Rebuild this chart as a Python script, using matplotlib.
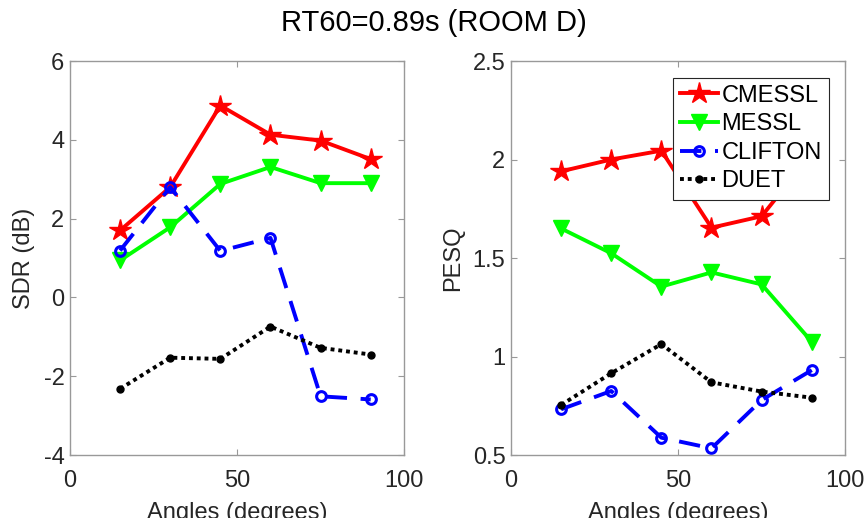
import matplotlib
matplotlib.use("Agg")
import matplotlib.pyplot as plt

plt.rcParams['font.family'] = ['Liberation Sans', 'DejaVu Sans']
plt.rcParams['axes.unicode_minus'] = False

# =========================
# data
# =========================

angles = [15, 30, 45, 60, 75, 90]

sdr_cmessl = [1.70, 2.80, 4.87, 4.13, 3.98, 3.51]
sdr_messl = [0.94, 1.78, 2.88, 3.31, 2.90, 2.90]
sdr_clifton = [1.19, 2.80, 1.18, 1.51, -2.51, -2.59]
sdr_duet = [-2.32, -1.53, -1.56, -0.74, -1.28, -1.45]

pesq_cmessl = [1.94, 2.00, 2.045, 1.654, 1.712, 2.03]
pesq_messl = [1.65, 1.524, 1.355, 1.427, 1.366, 1.075]
pesq_clifton = [0.732, 0.825, 0.588, 0.534, 0.779, 0.931]
pesq_duet = [0.754, 0.915, 1.063, 0.869, 0.822, 0.791]

method_names = ["CMESSL", "MESSL", "CLIFTON", "DUET"]

# =========================
# figure
# =========================

fig = plt.figure(figsize=(8.68, 5.18), dpi=100)
ax1 = fig.add_axes([0.0806, 0.1216, 0.385, 0.7606])
ax2 = fig.add_axes([0.5887, 0.1216, 0.385, 0.7606])

fs = 17
edge = '#999999'
txt = '#262626'


def draw(ax, series):
    c, m, cl, d = series
    ax.plot(angles, c, color='red', lw=2.8, marker='*', ms=16, label=method_names[0])
    ax.plot(angles, m, color='#00ff00', lw=2.8, marker='v', ms=11, label=method_names[1])
    ax.plot(angles, cl, color='blue', lw=2.8, ls=(0, (5.5, 3.5)), marker='o', ms=7,
            mfc='none', mew=2.2, label=method_names[2])
    ax.plot(angles, d, color='black', lw=2.8, ls=(0, (1, 1)), marker='o', ms=5,
            label=method_names[3])
    ax.set_xlim(0, 100)
    ax.set_xticks([0, 50, 100])
    ax.tick_params(direction='in', top=True, right=True, labelsize=fs,
                   colors=txt, color=edge, length=4, width=0.8, pad=4)
    ax.tick_params(axis='x', pad=11)
    for s in ax.spines.values():
        s.set_color(edge)
        s.set_linewidth(1.0)
    ax.set_xlabel("Angles (degrees)", fontsize=fs, color=txt, labelpad=7)


draw(ax1, [sdr_cmessl, sdr_messl, sdr_clifton, sdr_duet])
ax1.set_ylim(-4, 6)
ax1.set_yticks([-4, -2, 0, 2, 4, 6])
ax1.set_ylabel("SDR (dB)", fontsize=fs, color=txt, labelpad=6)

draw(ax2, [pesq_cmessl, pesq_messl, pesq_clifton, pesq_duet])
ax2.set_ylim(0.5, 2.5)
ax2.set_yticks([0.5, 1, 1.5, 2, 2.5])
ax2.set_yticklabels(["0.5", "1", "1.5", "2", "2.5"])
ax2.set_ylabel("PESQ", fontsize=fs, color=txt, labelpad=6)

leg = ax2.legend(loc='upper right', fontsize=fs, fancybox=False, framealpha=1,
                 edgecolor='#262626', handlelength=1.6, handletextpad=0.15,
                 borderpad=0.3, labelspacing=0.28, borderaxespad=0.7)
leg.get_frame().set_linewidth(0.8)

fig.suptitle("RT60=0.89s (ROOM D)", fontsize=21, color='black', y=0.982)

fig.savefig("out.png", dpi=100)
